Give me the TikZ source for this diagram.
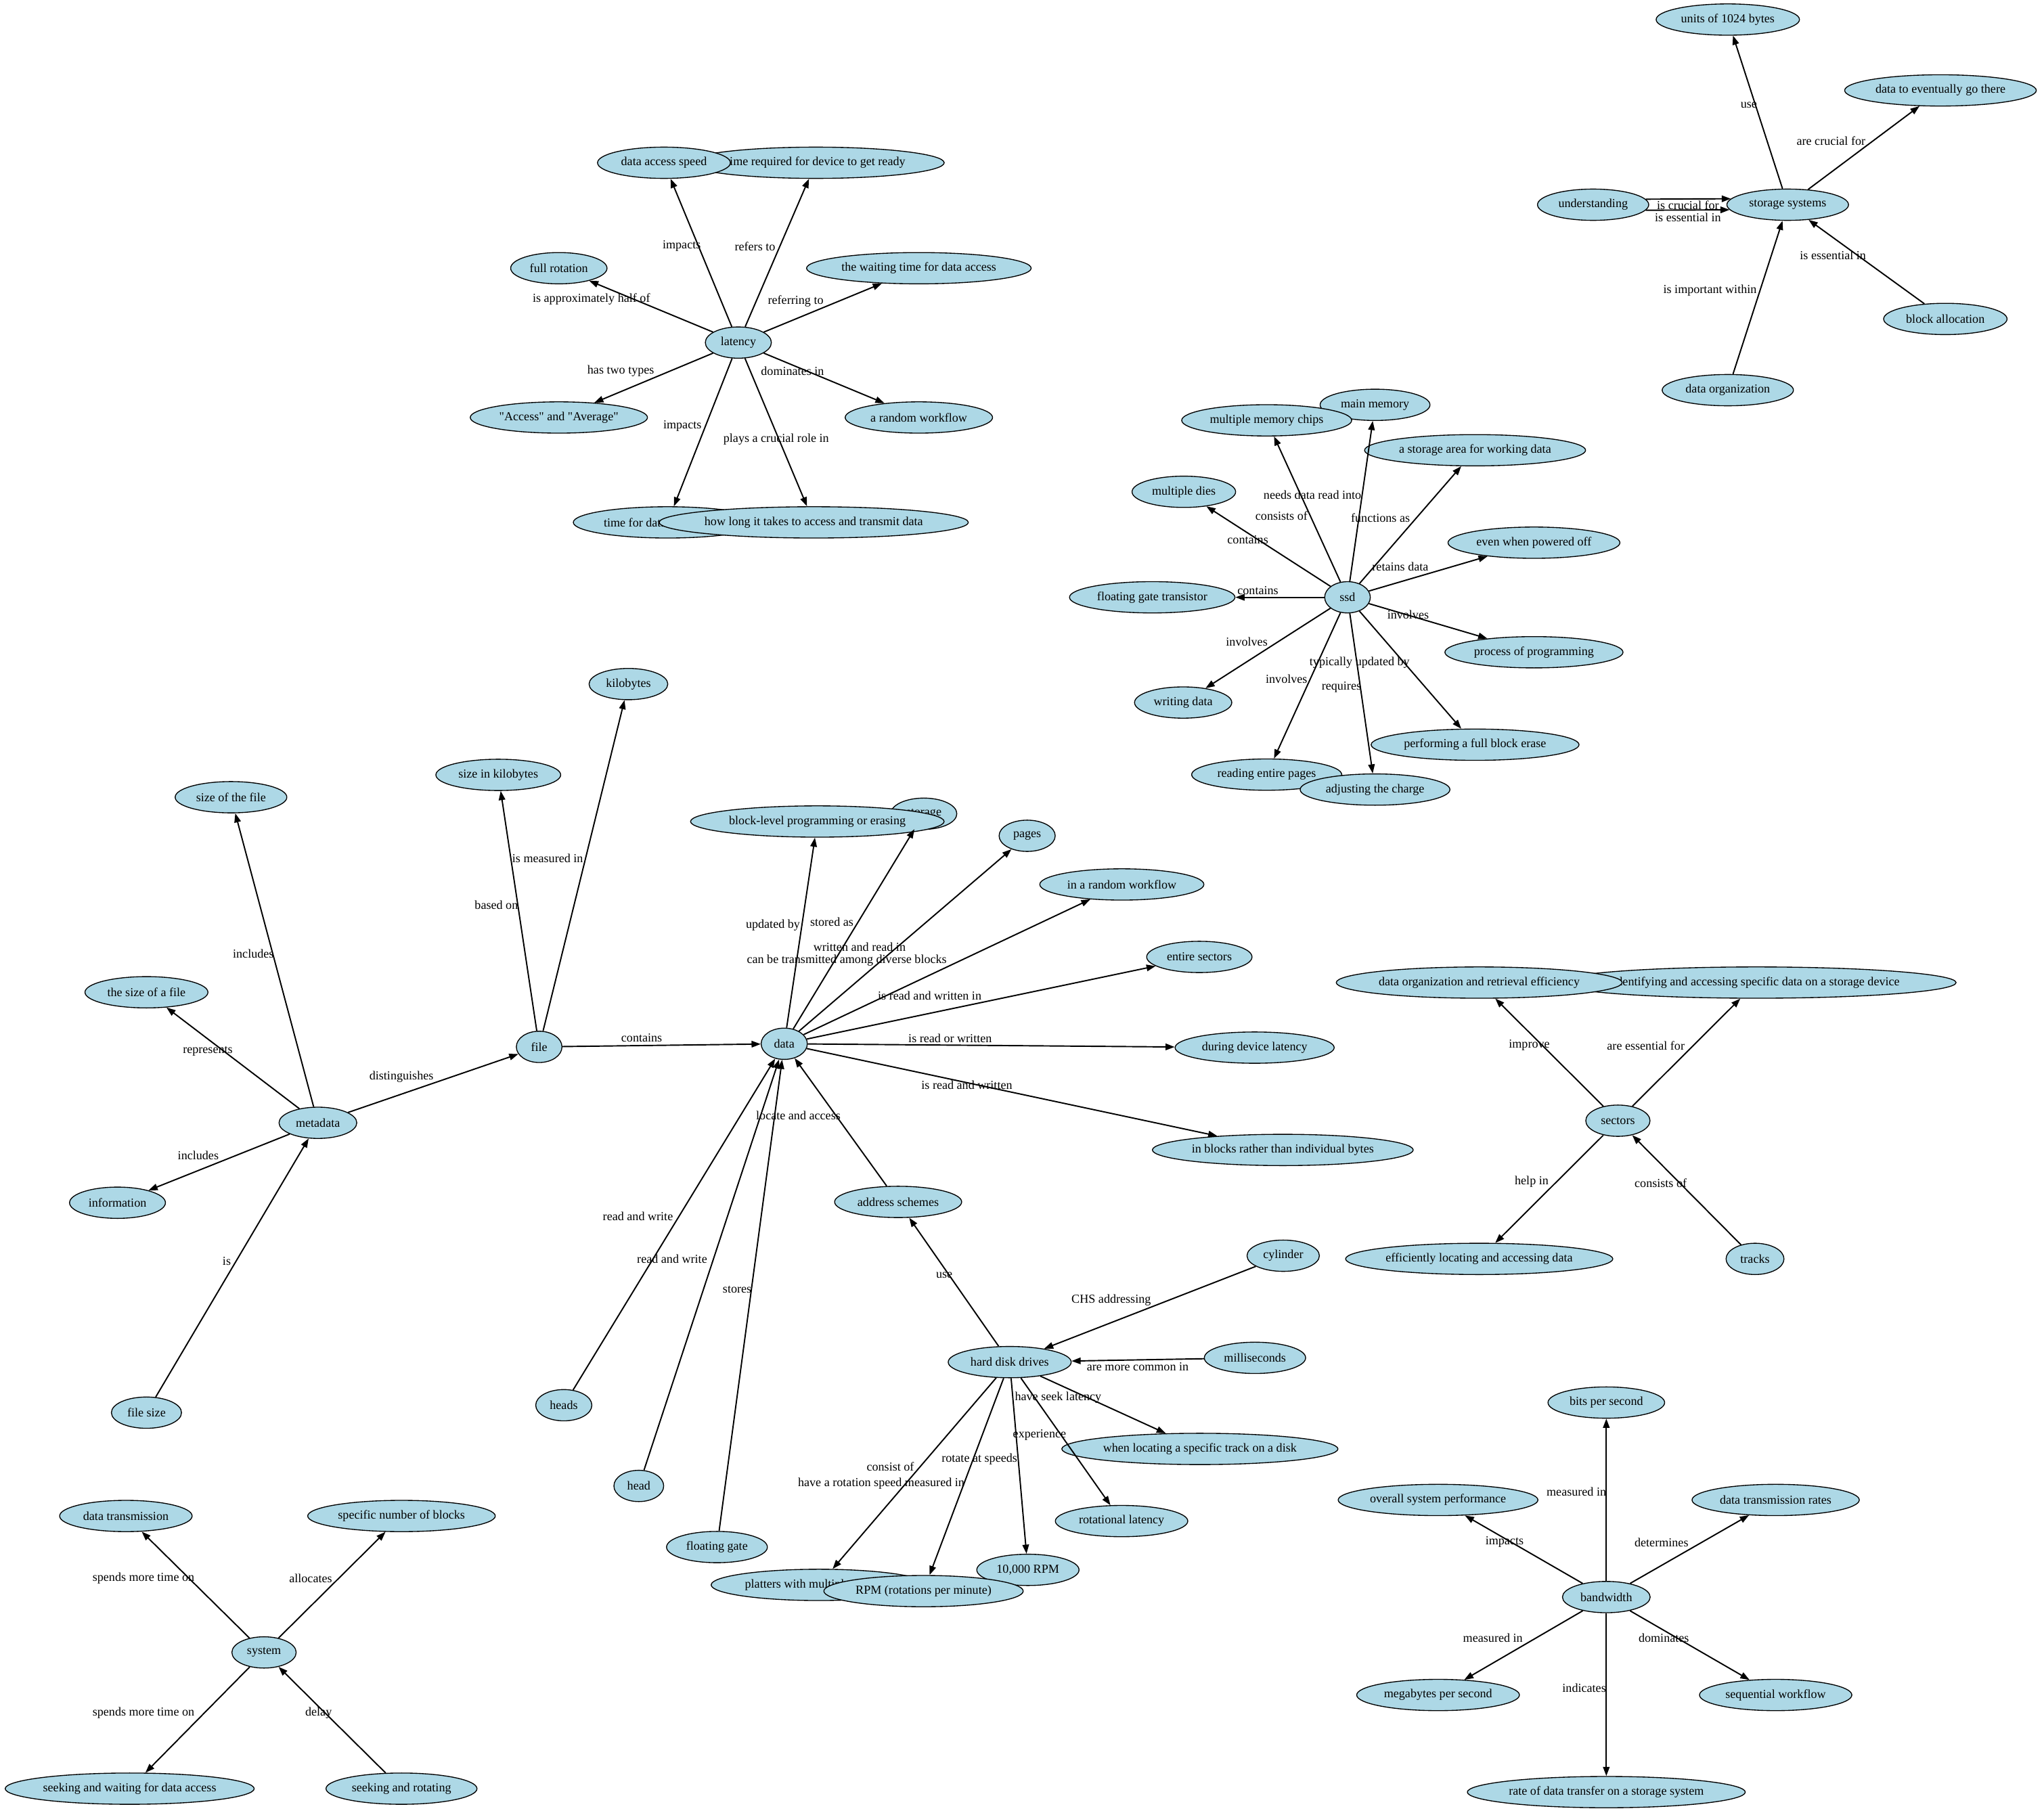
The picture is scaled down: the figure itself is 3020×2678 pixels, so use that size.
\documentclass[tikz,border=0pt]{standalone}
\usepackage{fontspec}
\setmainfont{Liberation Serif}[Ligatures=TeXOff]
\usetikzlibrary{arrows.meta,shapes.geometric,calc}
\definecolor{gnblue}{HTML}{ADD8E6}
\newcommand\gnfnt{\fontsize{9.4pt}{11pt}\selectfont}
\newcommand\GN[4][]{%
  \node[inner sep=0pt,font=\gnfnt] (gnm) at (0,0) {\phantom{#4}};%
  \path let \p1=($(gnm.east)-(gnm.west)$) in
    node[gnode,minimum width={max(35pt,1.3277*\x1+14.1pt)},#1] (#2) at (#3) {\makebox[0pt]{#4}};%
}
\tikzset{
  gnode/.style={ellipse,draw=black,line width=0.7pt,fill=gnblue,inner sep=0pt,minimum height=24pt,font=\gnfnt},
  gedge/.style={draw=black,line width=1pt,-{Triangle[length=7pt,width=5pt]}},
  lbl/.style={font=\gnfnt,inner sep=0pt},
}
\begin{document}
\begin{tikzpicture}[x=0.5192pt,y=-0.5192pt]
\fill[white] (0,0) rectangle (3020,2678);
\useasboundingbox (0,0) rectangle (3020,2678);
% ---------- latency cluster
\GN{lat}{1090.9,506.2}{latency}
\GN{trd}{1205.4,240.5}{time required for device to get ready}
\GN{das}{981,240.5}{data access speed}
\GN{fro}{825.7,396.3}{full rotation}
\GN{wtd}{1357.6,396.3}{the waiting time for data access}
\GN{aaa}{825.7,616.9}{"Access" and "Average"}
\GN{arw}{1357.6,616.9}{a random workflow}
\GN{tdt}{986.3,771.9}{time for data transmission}
\GN{hlt}{1202.3,771.9}{how long it takes to access and transmit data}
% ---------- ssd cluster
\GN{ssd}{1990.9,882.6}{ssd}
\GN{mmem}{2031.6,598.2}{main memory}
\GN{mmc}{1871.5,621.1}{multiple memory chips}
\GN{sawd}{2179.4,665.3}{a storage area for working data}
\GN{mdies}{1749.1,726.7}{multiple dies}
\GN{ewpo}{2266.4,801.9}{even when powered off}
\GN{fgt}{1702.4,882.6}{floating gate transistor}
\GN{pop}{2266.4,963.8}{process of programming}
\GN{wdat}{1748.1,1038.1}{writing data}
\GN{pfbe}{2179.4,1100.4}{performing a full block erase}
\GN{rep}{1871.5,1144.6}{reading entire pages}
\GN{atc}{2031.6,1166.7}{adjusting the charge}
% ---------- data cluster
\GN{data}{1158.7,1542.3}{data}
\GN{stor}{1364.9,1202.4}{storage}
\GN{blpe}{1207.6,1213.9}{block-level programming or erasing}
\GN{pages}{1517.6,1235}{pages}
\GN{iarw}{1657.5,1306.9}{in a random workflow}
\GN{esec}{1772,1414}{entire sectors}
\GN{ddl}{1853.7,1548}{during device latency}
\GN{ibri}{1895.3,1699.2}{in blocks rather than individual bytes}
% ---------- file / metadata
\GN{kb}{928.5,1010.8}{kilobytes}
\GN{sik}{736.2,1145}{size in kilobytes}
\GN{sotf}{341.3,1178}{size of the file}
\GN{soaf}{216.4,1466.2}{the size of a file}
\GN{file}{796.6,1546.9}{file}
\GN{meta}{469.7,1659.1}{metadata}
\GN{info}{173.6,1777.2}{information}
\GN{fsz}{216.4,2087.4}{file size}
\GN{heads}{833,2076.4}{heads}
\GN{head}{943.8,2195.7}{head}
\GN{fgate}{1059.3,2286}{floating gate}
\GN{addr}{1327,1776}{address schemes}
% ---------- hard disk drives
\GN{hdd}{1491.8,2012.7}{hard disk drives}
\GN{cyl}{1895.9,1855.5}{cylinder}
\GN{mil}{1854.2,2006.4}{milliseconds}
\GN{wlst}{1772.8,2141}{when locating a specific track on a disk}
\GN{rotl}{1657.1,2247.6}{rotational latency}
\GN{plat}{1210,2341.9}{platters with multiple surfaces}
\GN{rpmt}{1518.7,2319.7}{10,000 RPM}
\GN{rpm}{1364.5,2351.1}{RPM (rotations per minute)}
% ---------- storage systems
\GN{ukb}{2552.8,28.9}{units of 1024 bytes}
\GN{dteg}{2867,133.6}{data to eventually go there}
\GN{und}{2353.8,302.5}{understanding}
\GN{ssys}{2641.3,302.5}{storage systems}
\GN{balloc}{2874.2,471.3}{block allocation}
\GN{dorg}{2552.8,576.5}{data organization}
% ---------- sectors
\GN{iasd}{2595,1451.9}{identifying and accessing specific data on a storage device}
\GN{dore}{2185.5,1451.9}{data organization and retrieval efficiency}
\GN{sect}{2390.4,1656}{sectors}
\GN{ela}{2185.5,1860.2}{efficiently locating and accessing data}
\GN{tracks}{2593,1860.2}{tracks}
% ---------- bandwidth
\GN{bps}{2373.3,2072.5}{bits per second}
\GN{osp}{2124.7,2216.4}{overall system performance}
\GN{dtr}{2623.5,2216.4}{data transmission rates}
\GN{bw}{2373.3,2359.9}{bandwidth}
\GN{mbps}{2124.7,2504.6}{megabytes per second}
\GN{sqw}{2623.5,2504.6}{sequential workflow}
\GN{rdt}{2373.3,2648.1}{rate of data transfer on a storage system}
% ---------- system
\GN{dtx}{186,2240.1}{data transmission}
\GN{snb}{593.2,2240.1}{specific number of blocks}
\GN{sys}{390.1,2441.7}{system}
\GN{swda}{191.6,2643}{seeking and waiting for data access}
\GN{sar}{593.2,2643}{seeking and rotating}

% ================= edges
\draw[gedge] (lat) -- (das);
\draw[gedge] (lat) -- (trd);
\draw[gedge] (lat) -- (fro);
\draw[gedge] (lat) -- (wtd);
\draw[gedge] (lat) -- (aaa);
\draw[gedge] (lat) -- (arw);
\draw[gedge] (lat) -- (tdt);
\draw[gedge] (lat) -- (hlt);

\draw[gedge] (ssd) -- (mmem);
\draw[gedge] (ssd) -- (mmc);
\draw[gedge] (ssd) -- (sawd);
\draw[gedge] (ssd) -- (mdies);
\draw[gedge] (ssd) -- (ewpo);
\draw[gedge] (ssd) -- (fgt);
\draw[gedge] (ssd) -- (pop);
\draw[gedge] (ssd) -- (wdat);
\draw[gedge] (ssd) -- (pfbe);
\draw[gedge] (ssd) -- (rep);
\draw[gedge] (ssd) -- (atc);

\draw[gedge] (data) -- (blpe);
\draw[gedge] (data) -- (stor);
\draw[gedge] (data) -- (pages);
\draw[gedge] (data) -- (iarw);
\draw[gedge] (data) -- (esec);
\draw[gedge] (data) -- (ddl);
\draw[gedge] (data) -- (ibri);

\draw[gedge] (file) -- (sik);
\draw[gedge] (file) -- (kb);
\draw[gedge] (file) -- (data);
\draw[gedge] (meta) -- (sotf);
\draw[gedge] (meta) -- (soaf);
\draw[gedge] (meta) -- (file);
\draw[gedge] (meta) -- (info);
\draw[gedge] (fsz) -- (meta);
\draw[gedge] (heads) -- (data);
\draw[gedge] (head) -- (data);
\draw[gedge] (fgate) -- (data);
\draw[gedge] (addr) -- (data);

\draw[gedge] (hdd) -- (addr);
\draw[gedge] (cyl) -- (hdd);
\draw[gedge] (mil) -- (hdd);
\draw[gedge] (hdd) -- (wlst);
\draw[gedge] (hdd) -- (rotl);
\draw[gedge] (hdd) -- (rpmt);
\draw[gedge] (hdd) -- (plat);
\draw[gedge] (hdd) -- (rpm);

\draw[gedge] (ssys) -- (ukb);
\draw[gedge] (ssys) -- (dteg);
\draw[gedge] (und.6.4) -- (ssys.174.1);
\draw[gedge] (und.-6.4) -- (ssys.185.9);
\draw[gedge] (balloc) -- (ssys);
\draw[gedge] (dorg) -- (ssys);

\draw[gedge] (sect) -- (dore);
\draw[gedge] (sect) -- (iasd);
\draw[gedge] (sect) -- (ela);
\draw[gedge] (tracks) -- (sect);

\draw[gedge] (bw) -- (bps);
\draw[gedge] (bw) -- (osp);
\draw[gedge] (bw) -- (dtr);
\draw[gedge] (bw) -- (mbps);
\draw[gedge] (bw) -- (sqw);
\draw[gedge] (bw) -- (rdt);

\draw[gedge] (sys) -- (dtx);
\draw[gedge] (sys) -- (snb);
\draw[gedge] (sys) -- (swda);
\draw[gedge] (sar) -- (sys);

% ================= edge labels
\node[lbl] (l1) at (1007.2,363.1) {impacts};
\node[lbl] (l2) at (1115.5,363.9) {refers to};
\node[lbl] (l3) at (873.8,441.8) {is approximately half of};
\node[lbl] (l4) at (1175.6,444.9) {referring to};
\node[lbl] (l5) at (917.2,548.5) {has two types};
\node[lbl] (l6) at (1170.9,548.5) {dominates in};
\node[lbl] (l7) at (1008.2,629.6) {impacts};
\node[lbl] (l8) at (1146.8,649.3) {plays a crucial role in};

\node[lbl] (l9) at (1939.1,730.8) {needs data read into};
\node[lbl] (l10) at (1893.4,762.1) {consists of};
\node[lbl] (l11) at (2039.6,765.7) {functions as};
\node[lbl] (l12) at (1843.6,797.1) {contains};
\node[lbl] (l13) at (2068.9,837.2) {retains data};
\node[lbl] (l14) at (1858.5,872.2) {contains};
\node[lbl] (l15) at (2080.4,908.4) {involves};
\node[lbl] (l16) at (1842.1,948.5) {involves};
\node[lbl] (l17) at (2008.8,979.1) {typically updated by};
\node[lbl] (l18) at (1900.8,1003.2) {involves};
\node[lbl] (l19) at (1981.9,1015.2) {requires};

\node[lbl] (l20) at (1142,1367) {updated by};
\node[lbl] (l21) at (1229,1362.4) {stored as};
\node[lbl] (l22) at (1269.9,1398.8) {written and read in};
\node[lbl] (l23) at (1251.1,1418.7) {can be transmitted among diverse blocks};
\node[lbl] (l24) at (1373.6,1471.5) {is read and written in};
\node[lbl] (l25) at (1403.8,1534.6) {is read or written};
\node[lbl] (l26) at (1428.5,1603.5) {is read and written};
\node[lbl] (l27) at (1179.5,1648.3) {locate and access};

\node[lbl] (l28) at (809.2,1268.2) {is measured in};
\node[lbl] (l29) at (733.4,1337.2) {based on};
\node[lbl] (l30) at (374.3,1409) {includes};
\node[lbl] (l31) at (307,1553.5) {represents};
\node[lbl] (l32) at (948.1,1533.7) {contains};
\node[lbl] (l33) at (593.1,1590.9) {distinguishes};
\node[lbl] (l34) at (292.9,1706.8) {includes};
\node[lbl] (l35) at (942.5,1797.7) {read and write};
\node[lbl] (l36) at (993,1860) {read and write};
\node[lbl] (l37) at (1089.1,1905.5) {stores};
\node[lbl] (l38) at (335,1863.7) {is};

\node[lbl] (l39) at (1395.1,1884.3) {use};
\node[lbl] (l40) at (1641.8,1921.3) {CHS addressing};
\node[lbl] (l41) at (1681,2019.4) {are more common in};
\node[lbl] (l42) at (1563.4,2065.2) {have seek latency};
\node[lbl] (l43) at (1535.9,2120) {experience};
\node[lbl] (l44) at (1447.1,2156.2) {rotate at speeds};
\node[lbl] (l45) at (1315.5,2167.3) {consist of};
\node[lbl] (l46) at (1302,2192.1) {have a rotation speed measured in};

\node[lbl] (l47) at (2583.9,155.4) {use};
\node[lbl] (l48) at (2705.3,208.4) {are crucial for};
\node[lbl] (l49) at (2493.9,303.7) {is crucial for};
\node[lbl] (l50) at (2493.9,321) {is essential in};
\node[lbl] (l51) at (2708.2,377.6) {is essential in};
\node[lbl] (l52) at (2526.5,429) {is important within};

\node[lbl] (l53) at (2259.5,1544.9) {improve};
\node[lbl] (l54) at (2431.7,1544.9) {are essential for};
\node[lbl] (l55) at (2263,1746.4) {help in};
\node[lbl] (l56) at (2453.6,1748) {consists of};

\node[lbl] (l57) at (2329.1,2204.6) {measured in};
\node[lbl] (l58) at (2222.9,2278.9) {impacts};
\node[lbl] (l59) at (2454.8,2278.9) {determines};
\node[lbl] (l60) at (2205.7,2419.9) {measured in};
\node[lbl] (l61) at (2458.2,2419.9) {dominates};
\node[lbl] (l62) at (2340.6,2494.1) {indicates};

\node[lbl] (l63) at (212,2331.8) {spends more time on};
\node[lbl] (l64) at (459,2331.8) {allocates};
\node[lbl] (l65) at (212,2531.5) {spends more time on};
\node[lbl] (l66) at (470.7,2531.5) {delay};
\end{tikzpicture}
\end{document}
